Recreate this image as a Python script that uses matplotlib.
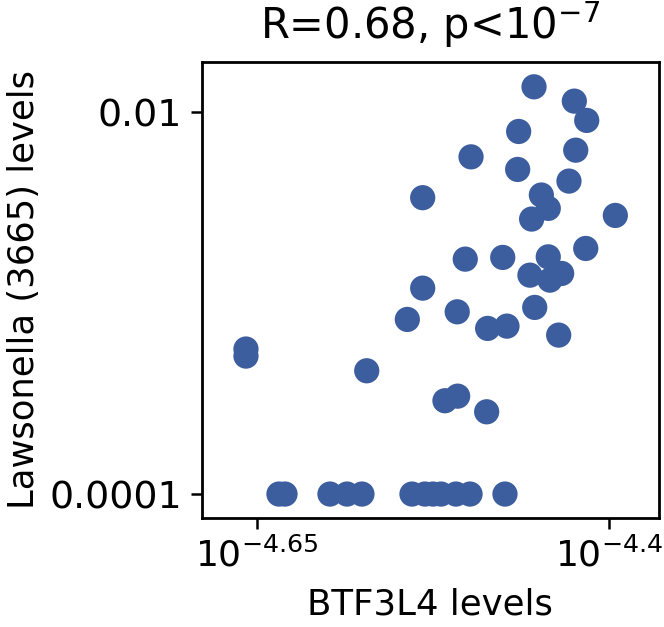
import numpy as np
import matplotlib
matplotlib.use("Agg")
import matplotlib.pyplot as plt

# log10 of BTF3L4 levels
log_btf3l4 = [-4.4532, -4.4246, -4.4158, -4.4641, -4.4236, -4.4979, -4.4648, -4.4284,
              -4.4480, -4.5322, -4.4431, -4.4549, -4.3955, -4.4165, -4.5020, -4.4754,
              -4.4431, -4.4336, -4.4561, -4.4419, -4.5322, -4.5077, -4.4527, -4.4861,
              -4.4724, -4.4357, -4.5431, -4.6576, -4.6576, -4.5719, -4.5164, -4.5074,
              -4.4868,
              -4.6342, -4.6299, -4.5980, -4.5859, -4.5753, -4.5398, -4.5306, -4.5249,
              -4.5192, -4.5086, -4.4986, -4.4738]
# log10 of Lawsonella (3665) levels
log_lawsonella = [-1.866, -1.941, -2.042, -2.100, -2.198, -2.233, -2.299, -2.360,
                  -2.433, -2.447, -2.503, -2.559, -2.540, -2.713, -2.769, -2.760,
                  -2.757, -2.844, -2.853, -2.879, -2.921, -3.045, -3.022, -3.132,
                  -3.120, -3.167, -3.085, -3.240, -3.277, -3.354, -3.511, -3.487,
                  -3.569,
                  -4.0, -4.0, -4.0, -4.0, -4.0, -4.0, -4.0, -4.0,
                  -4.0, -4.0, -4.0, -4.0]

x_ticks = [10 ** -4.65, 10 ** -4.4]
x_ticklabels = [r"$10^{-4.65}$", r"$10^{-4.4}$"]
y_ticks = [1e-4, 1e-2]
y_ticklabels = ["0.0001", "0.01"]

x = 10 ** np.array(log_btf3l4)
y = 10 ** np.array(log_lawsonella)

fig = plt.figure(figsize=(6.64, 6.27), dpi=100)
ax = fig.add_axes([0.3038, 0.1743, 0.6887, 0.7268])
ax.scatter(x, y, s=330, color="#3c5d9e", edgecolors="none", zorder=3)
ax.set_xscale("log")
ax.set_yscale("log")
ax.set_xlim(10 ** -4.689, 10 ** -4.3645)
ax.set_ylim(10 ** -4.124, 10 ** -1.736)
ax.xaxis.set_major_locator(matplotlib.ticker.FixedLocator(x_ticks))
ax.xaxis.set_minor_locator(matplotlib.ticker.NullLocator())
ax.yaxis.set_major_locator(matplotlib.ticker.FixedLocator(y_ticks))
ax.yaxis.set_minor_locator(matplotlib.ticker.NullLocator())
ax.set_xticklabels(x_ticklabels)
ax.set_yticklabels(y_ticklabels)
ax.tick_params(axis="x", labelsize=26, length=8, width=1.8, pad=6)
ax.tick_params(axis="y", labelsize=27.3, length=8, width=1.8, pad=6)
for sp in ax.spines.values():
    sp.set_linewidth(2)
ax.set_xlabel("BTF3L4 levels", fontsize=25.6, labelpad=10)
ax.set_ylabel("Lawsonella (3665) levels", fontsize=25.5, labelpad=6)
ax.set_title(r"R=0.68, p<$10^{-7}$", fontsize=30, pad=16.5)
fig.savefig("out.png", dpi=100)
